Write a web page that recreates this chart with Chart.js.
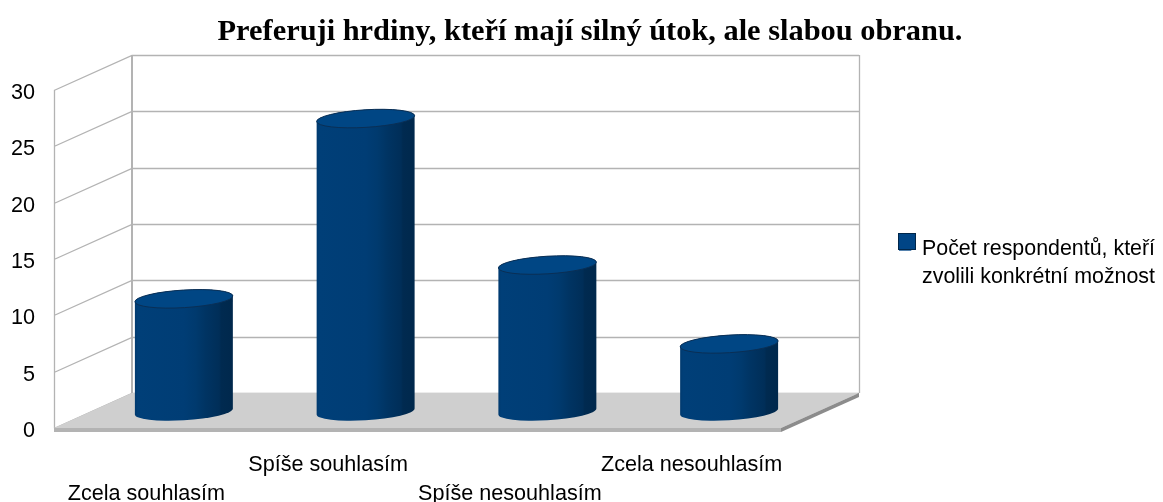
<!DOCTYPE html>
<html>
<head>
<meta charset="utf-8">
<script src="https://cdn.jsdelivr.net/npm/chart.js@4"></script>
<style>
  html, body { margin: 0; background: #fff; }
  canvas { display: block; }
</style>
</head>
<body>
<canvas id="chart" width="1163" height="502"></canvas>
<script>
const titleText = "Preferuji hrdiny, kteří mají silný útok, ale slabou obranu.";
const categories = ["Zcela souhlasím", "Spíše souhlasím", "Spíše nesouhlasím", "Zcela nesouhlasím"];
const seriesLabel = ["Počet respondentů, kteří", "zvolili konkrétní možnost"];
const seriesValues = [10, 26, 13, 6];
const axisMax = 30;
const axisStep = 5;

// how far the back wall sits from the front plane
const depthX = 78;
const depthY = 35;
const gridColor = "#b3b3b3";

function drawWalls(chart) {
  const ctx = chart.ctx;
  const yScale = chart.scales.y;
  const { left, right, top, bottom } = chart.chartArea;
  ctx.save();
  ctx.strokeStyle = gridColor;
  ctx.lineWidth = 1.3;
  ctx.beginPath();
  yScale.ticks.forEach((t) => {
    const y = Math.round(yScale.getPixelForValue(t.value)) + 0.5;
    ctx.moveTo(left, y);
    ctx.lineTo(left + depthX, y - depthY);
    ctx.lineTo(right + depthX, y - depthY);
  });
  ctx.moveTo(left + 0.5, top);
  ctx.lineTo(left + 0.5, bottom);
  ctx.moveTo(right + depthX + 0.5, top - depthY);
  ctx.lineTo(right + depthX + 0.5, bottom - depthY);
  ctx.stroke();
  ctx.lineWidth = 2;
  ctx.beginPath();
  ctx.moveTo(left + depthX, top - depthY);
  ctx.lineTo(left + depthX, bottom - depthY);
  ctx.stroke();

  // floor slab
  const slab = 4;
  ctx.fillStyle = "#cfcfcf";
  ctx.beginPath();
  ctx.moveTo(left, bottom);
  ctx.lineTo(right, bottom);
  ctx.lineTo(right + depthX, bottom - depthY);
  ctx.lineTo(left + depthX, bottom - depthY);
  ctx.closePath();
  ctx.fill();
  ctx.fillStyle = "#b3b3b3";
  ctx.fillRect(left, bottom, right - left, slab);
  ctx.fillStyle = "#8c8c8c";
  ctx.beginPath();
  ctx.moveTo(right, bottom);
  ctx.lineTo(right + depthX, bottom - depthY);
  ctx.lineTo(right + depthX, bottom - depthY + slab);
  ctx.lineTo(right, bottom + slab);
  ctx.closePath();
  ctx.fill();
  ctx.restore();
}

function drawCylinder(ctx, bar) {
  const cx = bar.x + depthX / 2;
  const topY = bar.y - depthY / 2 + 1;
  const baseY = bar.base - depthY / 2 + 1;
  const a = bar.width / 2;
  const b = 8.8;
  const tilt = -3.5 * Math.PI / 180;
  const t0 = Math.atan(-(b / a) * Math.tan(tilt));

  const shade = ctx.createLinearGradient(cx - a, 0, cx + a, 0);
  shade.addColorStop(0, "#00396e");
  shade.addColorStop(0.03, "#003f78");
  shade.addColorStop(0.5, "#003d75");
  shade.addColorStop(0.62, "#003a6e");
  shade.addColorStop(0.72, "#003463");
  shade.addColorStop(0.86, "#002e58");
  shade.addColorStop(0.88, "#002a50");
  shade.addColorStop(1, "#00284c");

  ctx.save();
  ctx.fillStyle = shade;
  ctx.beginPath();
  ctx.ellipse(cx, baseY, a, b, tilt, t0, t0 + Math.PI);
  ctx.ellipse(cx, topY, a, b, tilt, t0 + Math.PI, t0 + 2 * Math.PI);
  ctx.closePath();
  ctx.fill();

  ctx.fillStyle = "#004684";
  ctx.strokeStyle = "#0a2f55";
  ctx.lineWidth = 1;
  ctx.beginPath();
  ctx.ellipse(cx, topY, a, b, tilt, 0, 2 * Math.PI);
  ctx.fill();
  ctx.stroke();
  ctx.restore();
}

const scene3d = {
  id: "scene3d",
  afterLayout(chart) {
    // title is centred a little right of the canvas, legend sits lower than stock
    chart.titleBlock.left = 17;
    chart.legend.top += 15;
    chart.legend.bottom += 15;
  },
  beforeDatasetsDraw(chart) {
    drawWalls(chart);
  },
  beforeDatasetDraw(chart, args) {
    args.meta.data.forEach((bar) => drawCylinder(chart.ctx, bar));
    return false;
  },
  afterDraw(chart) {
    // legend swatch, the stock one leaves too wide a gap before the text
    const ctx = chart.ctx;
    ctx.save();
    ctx.fillStyle = "#004586";
    ctx.strokeStyle = "#00264a";
    ctx.lineWidth = 1;
    ctx.fillRect(898.5, 233.5, 17, 16);
    ctx.strokeRect(898.5, 233.5, 17, 16);
    ctx.restore();
  },
};

new Chart(document.getElementById("chart"), {
  type: "bar",
  plugins: [scene3d],
  data: {
    labels: categories,
    datasets: [
      {
        label: seriesLabel,
        data: seriesValues,
        backgroundColor: "#004586",
        categoryPercentage: 1,
        barPercentage: 0.54,
      },
    ],
  },
  options: {
    responsive: false,
    animation: false,
    plugins: {
      tooltip: { enabled: false },
      title: {
        display: true,
        text: titleText,
        color: "#000",
        font: { family: "Liberation Serif", size: 30.4, weight: "bold", lineHeight: 1 },
        padding: { top: 16.5, bottom: 43.1 },
      },
      legend: {
        display: true,
        position: "right",
        maxWidth: 382,
        onClick: null,
        labels: {
          boxWidth: 12.3,
          boxHeight: 4,
          padding: 118,
          color: "#000",
          font: { family: "Liberation Sans", size: 21.4, lineHeight: 1.31 },
        },
      },
    },
    scales: {
      x: {
        grid: { display: false },
        border: { display: false },
        afterFit(scale) { scale.height = 74; },
        ticks: {
          color: "#000",
          padding: 14,
          labelOffset: 1.5,
          autoSkip: false,
          maxRotation: 0,
          minRotation: 0,
          font: { family: "Liberation Sans", size: 21.6, lineHeight: 1.36 },
          callback(value, i) {
            return i % 2 === 0 ? ["", categories[i]] : [categories[i], ""];
          },
        },
      },
      y: {
        min: 0,
        max: axisMax,
        grid: { display: false, drawTicks: false },
        border: { display: false },
        afterFit(scale) { scale.width = 54; },
        ticks: {
          stepSize: axisStep,
          color: "#000",
          padding: 19,
          labelOffset: 3,
          font: { family: "Liberation Sans", size: 21.6 },
        },
      },
    },
  },
});
</script>
</body>
</html>
